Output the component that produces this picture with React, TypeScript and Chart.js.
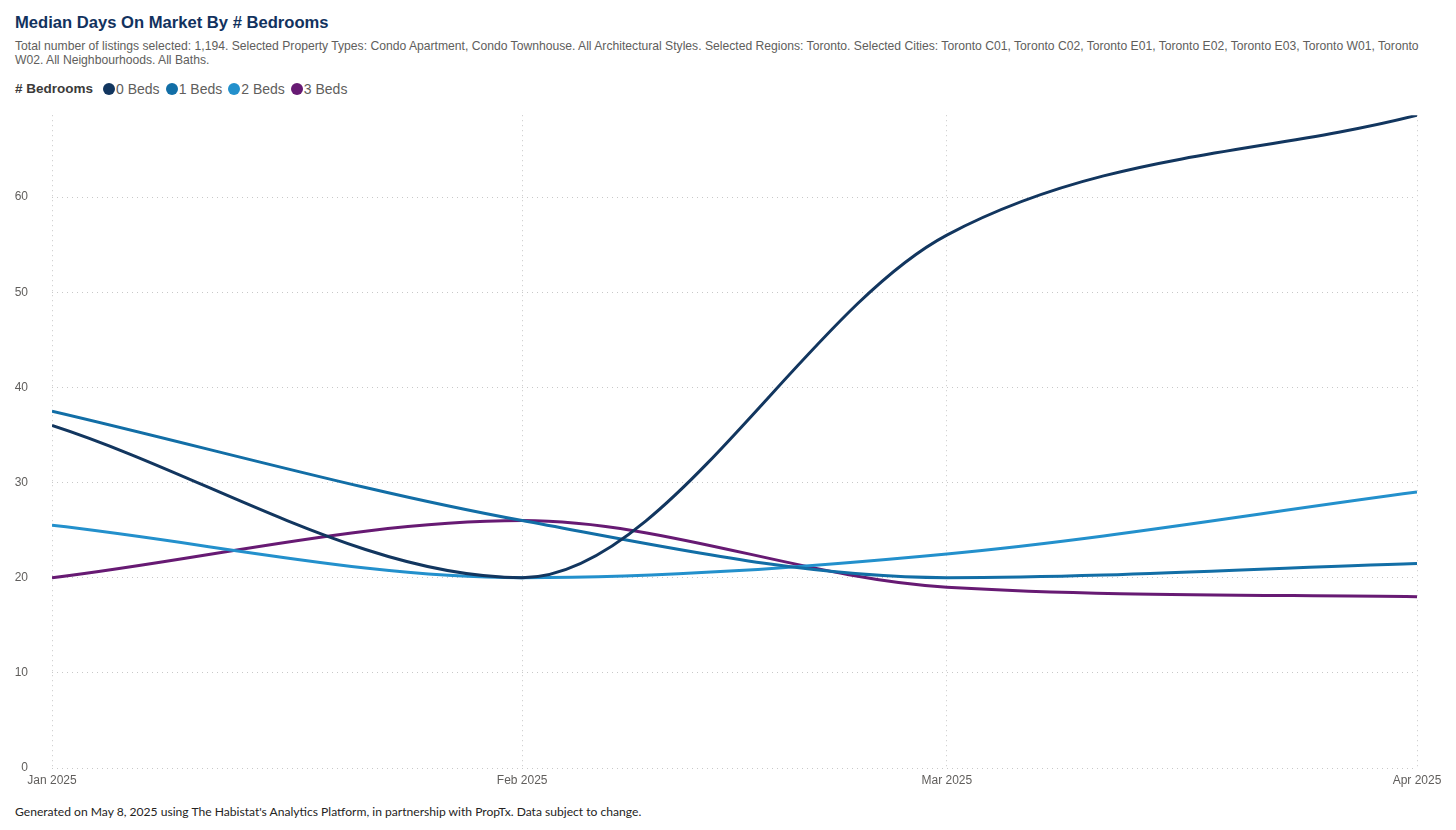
import React, { useEffect, useRef } from "react";
import { Chart, registerables } from "chart.js";

Chart.register(...registerables);

const monthDates = ["2025-01-01", "2025-02-01", "2025-03-01", "2025-04-01"];
const monthLabels = ["Jan 2025", "Feb 2025", "Mar 2025", "Apr 2025"];
const seriesNames = ["0 Beds", "1 Beds", "2 Beds", "3 Beds"];
const beds0 = [36, 20, 56, 68.6];
const beds1 = [37.5, 26, 20, 21.5];
const beds2 = [25.5, 20, 22.5, 29];
const beds3 = [20, 26, 19, 18];
const yTicks = [0, 10, 20, 30, 40, 50, 60];
const colors = ["#12365F", "#126EA6", "#2390CC", "#671A73"];

const title = "Median Days On Market By # Bedrooms";
const subtitle1 =
  "Total number of listings selected: 1,194. Selected Property Types: Condo Apartment, Condo Townhouse. All Architectural Styles. Selected Regions: Toronto. Selected Cities: Toronto C01, Toronto C02, Toronto E01, Toronto E02, Toronto E03, Toronto W01, Toronto";
const subtitle2 = "W02. All Neighbourhoods. All Baths.";
const legendTitle = "# Bedrooms";
const footer =
  "Generated on May 8, 2025 using The Habistat's Analytics Platform, in partnership with PropTx. Data subject to change.";

const DAY = 86400000;
const start = Date.parse(monthDates[0]);
const dayOffsets = monthDates.map((d) => Math.round((Date.parse(d) - start) / DAY));

export default function App() {
  const ref = useRef<HTMLCanvasElement>(null);

  useEffect(() => {
    const all = [beds0, beds1, beds2, beds3];
    const chart = new Chart(ref.current!, {
      type: "line",
      data: {
        datasets: all.map((vals, i) => ({
          label: seriesNames[i],
          data: vals.map((v, j) => ({ x: dayOffsets[j], y: v })),
          borderColor: colors[i],
          backgroundColor: colors[i],
          borderWidth: 3,
          pointRadius: 0,
          pointHoverRadius: 0,
          cubicInterpolationMode: "monotone" as const,
          fill: false,
        })),
      },
      options: {
        animation: false,
        responsive: false,
        maintainAspectRatio: false,
        layout: { padding: { top: 13, right: 39, left: 0, bottom: 0 } },
        plugins: { legend: { display: false }, tooltip: { enabled: false } },
        scales: {
          x: {
            type: "linear",
            min: dayOffsets[0],
            max: dayOffsets[dayOffsets.length - 1],
            afterBuildTicks: (scale: any) => {
              scale.ticks = dayOffsets.map((v) => ({ value: v }));
            },
            afterFit: (scale: any) => {
              scale.height = 32;
            },
            ticks: {
              autoSkip: false,
              maxRotation: 0,
              padding: 5,
              color: "#605E5C",
              font: { family: "'Liberation Sans', Arial, sans-serif", size: 12 },
              callback: (v: any) => {
                const idx = dayOffsets.indexOf(Number(v));
                return idx >= 0 ? monthLabels[idx] : "";
              },
            },
            grid: { color: "#C8C8C8", lineWidth: 1, drawTicks: false },
            border: { display: false, dash: [1, 4] },
          },
          y: {
            type: "linear",
            min: 0,
            max: 68.6,
            afterBuildTicks: (scale: any) => {
              scale.ticks = yTicks.map((v) => ({ value: v }));
            },
            afterFit: (scale: any) => {
              scale.width = 52;
            },
            ticks: {
              padding: 24,
              color: "#605E5C",
              font: { family: "'Liberation Sans', Arial, sans-serif", size: 12 },
            },
            grid: { color: "#C8C8C8", lineWidth: 1, drawTicks: false },
            border: { display: false, dash: [1, 4] },
          },
        },
      },
    });
    return () => chart.destroy();
  }, []);

  const font = "'Liberation Sans', Arial, sans-serif";

  return (
    <div
      style={{
        position: "absolute",
        left: 0,
        top: 0,
        width: 1456,
        height: 830,
        background: "#fff",
        fontFamily: font,
        overflow: "hidden",
      }}
    >
      <div
        style={{
          position: "absolute",
          left: 15,
          top: 13,
          fontSize: 16.6,
          fontWeight: "bold",
          color: "#12325E",
          whiteSpace: "nowrap",
        }}
      >
        {title}
      </div>
      <div
        style={{
          position: "absolute",
          left: 15,
          top: 40,
          fontSize: 12.15,
          lineHeight: "13.5px",
          color: "#605E5C",
          whiteSpace: "nowrap",
        }}
      >
        {subtitle1}
        <br />
        {subtitle2}
      </div>
      <div
        style={{
          position: "absolute",
          left: 15,
          top: 80,
          height: 17,
          display: "flex",
          alignItems: "center",
          whiteSpace: "nowrap",
        }}
      >
        <span style={{ fontSize: 13.5, fontWeight: "bold", color: "#3B3A39", marginRight: 10 }}>
          {legendTitle}
        </span>
        {seriesNames.map((n, i) => (
          <span key={n} style={{ display: "flex", alignItems: "center", marginRight: 6 }}>
            <span
              style={{
                width: 12,
                height: 12,
                borderRadius: 6,
                background: colors[i],
                display: "inline-block",
                marginRight: 1,
              }}
            />
            <span style={{ fontSize: 14, color: "#605E5C" }}>{n}</span>
          </span>
        ))}
      </div>
      <canvas
        ref={ref}
        width={1456}
        height={716}
        style={{ position: "absolute", left: 0, top: 84, width: 1456, height: 716 }}
      />
      <div
        style={{
          position: "absolute",
          left: 15,
          top: 804,
          fontSize: 12.1,
          fontFamily: "Lato, 'Open Sans', sans-serif",
          color: "#252423",
          whiteSpace: "nowrap",
        }}
      >
        {footer}
      </div>
    </div>
  );
}
